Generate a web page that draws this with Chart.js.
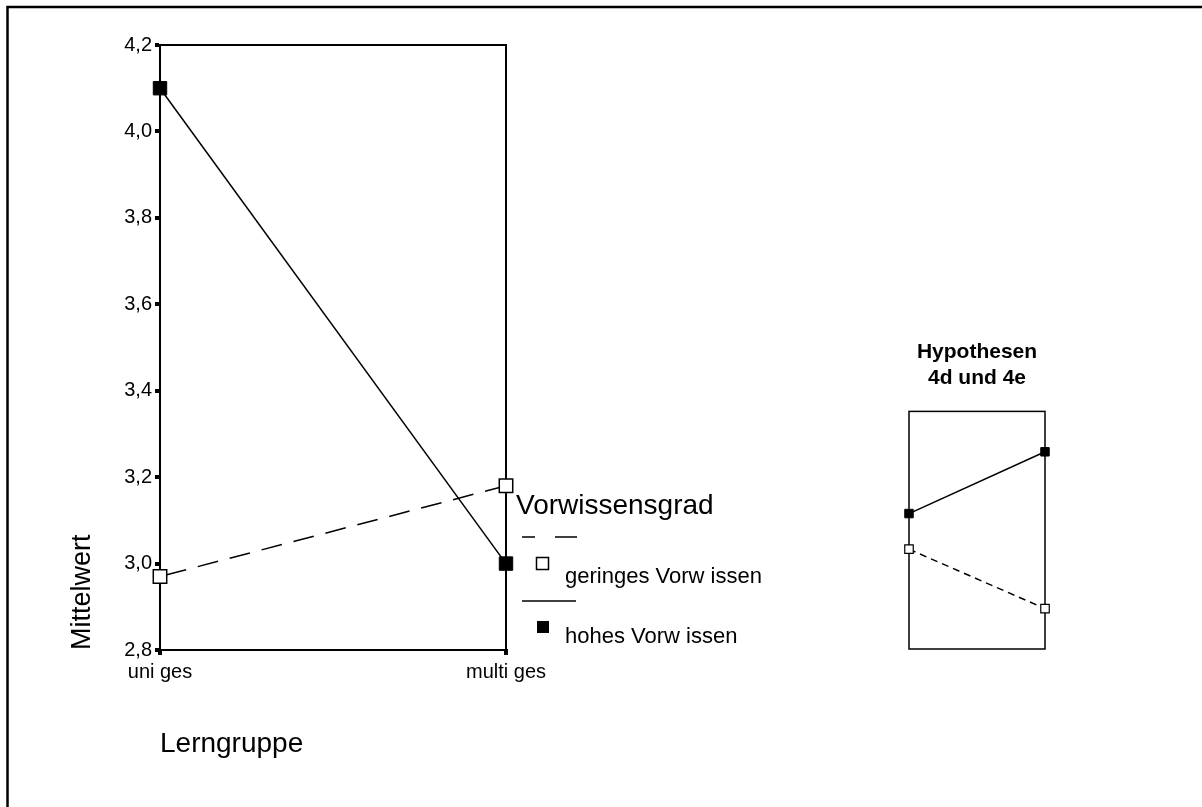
<!DOCTYPE html>
<html>
<head>
<meta charset="utf-8">
<script src="https://cdn.jsdelivr.net/npm/chart.js@4.4.1/dist/chart.umd.min.js"></script>
<style>
body { margin: 0; background: #fff; }
#wrap { position: relative; width: 1202px; height: 807px; overflow: hidden; }
#haupt { position: absolute; left: 0; top: 0; }
#klein { position: absolute; left: 860px; top: 330px; }
</style>
</head>
<body>
<div id="wrap">
  <canvas id="haupt" width="1202" height="807"></canvas>
  <canvas id="klein" width="240" height="340"></canvas>
</div>
<script>
// Lerngruppen (x-Achse)
var lerngruppen = ['uni ges', 'multi ges'];

// Mittelwerte je Vorwissensgrad
var geringesVorwissen = [2.97, 3.18];
var hohesVorwissen = [4.10, 3.00];

// y-Achse
var yMin = 2.8;
var yMax = 4.2;
var yStep = 0.2;

// Legende
var legendeTitel = 'Vorwissensgrad';
var legendeTexte = ['geringes Vorw issen', 'hohes Vorw issen'];

// kleines Schema "Hypothesen 4d und 4e" (keine Skala, nur die Richtung)
var hypoTitel = ['Hypothesen', '4d und 4e'];
var hypoGering = [4.2, 1.7];
var hypoHoch = [5.7, 8.3];

Chart.defaults.font.family = "'Liberation Sans', Arial, sans-serif";
Chart.defaults.color = '#000';

// Rahmen ums Diagramm
var boxPlugin = {
    id: 'box',
    beforeDatasetsDraw: function (chart) {
        var a = chart.chartArea;
        var ctx = chart.ctx;
        ctx.save();
        ctx.strokeStyle = '#000';
        ctx.lineWidth = chart.canvas.id == 'haupt' ? 2 : 1.5;
        ctx.strokeRect(a.left, a.top, a.right - a.left, a.bottom - a.top);
        ctx.restore();
    }
};

// Legende und Außenrahmen (nur Hauptdiagramm)
var legendePlugin = {
    id: 'legende',
    afterDraw: function (chart) {
        var ctx = chart.ctx;
        ctx.save();
        ctx.strokeStyle = '#000';
        ctx.fillStyle = '#000';

        // Außenrahmen
        ctx.lineWidth = 2.5;
        ctx.beginPath();
        ctx.moveTo(7.5, 807);
        ctx.lineTo(7.5, 7);
        ctx.lineTo(1202, 7);
        ctx.stroke();

        ctx.textBaseline = 'alphabetic';
        ctx.textAlign = 'left';
        ctx.font = "28px 'Liberation Sans', Arial, sans-serif";
        ctx.fillText(legendeTitel, 516, 514);

        // gestrichelt
        ctx.lineWidth = 1.5;
        ctx.setLineDash([13, 20, 22, 20]);
        ctx.beginPath();
        ctx.moveTo(522, 537);
        ctx.lineTo(577, 537);
        ctx.stroke();
        ctx.setLineDash([]);
        ctx.beginPath();
        ctx.moveTo(522, 601);
        ctx.lineTo(576, 601);
        ctx.stroke();

        ctx.fillStyle = '#fff';
        ctx.fillRect(536.5, 557.5, 12, 12);
        ctx.strokeRect(536.5, 557.5, 12, 12);
        ctx.fillStyle = '#000';
        ctx.fillRect(537, 621, 12, 12);

        ctx.font = "22px 'Liberation Sans', Arial, sans-serif";
        ctx.fillText(legendeTexte[0], 565, 583);
        ctx.fillText(legendeTexte[1], 565, 643);
        ctx.restore();
    }
};

var contextoHaupt = document.getElementById('haupt').getContext('2d');
var chartHaupt = new Chart(contextoHaupt, {
    type: 'line',
    data: {
        labels: lerngruppen,
        datasets: [{
            label: legendeTexte[0],
            data: geringesVorwissen,
            borderColor: '#000',
            borderWidth: 1.5,
            borderDash: [21, 12],
            borderDashOffset: -6,
            pointStyle: 'rect',
            pointRadius: 9.5,
            pointBackgroundColor: '#fff',
            pointBorderColor: '#000',
            pointBorderWidth: 1.5,
            tension: 0,
            clip: false
        }, {
            label: legendeTexte[1],
            data: hohesVorwissen,
            borderColor: '#000',
            borderWidth: 1.5,
            pointStyle: 'rect',
            pointRadius: 9.5,
            pointBackgroundColor: '#000',
            pointBorderColor: '#000',
            pointBorderWidth: 1,
            tension: 0,
            clip: false
        }]
    },
    options: {
        responsive: false,
        animation: false,
        layout: { padding: { left: 60, right: 696, top: 45, bottom: 46 } },
        plugins: {
            legend: { display: false },
            tooltip: { enabled: false }
        },
        scales: {
            x: {
                type: 'category',
                offset: false,
                grid: { drawOnChartArea: false, tickLength: 5, lineWidth: 4, color: '#000' },
                border: { display: true, color: '#000', width: 2 },
                ticks: { padding: 5, maxRotation: 0, font: { size: 20 }, color: '#000' },
                title: { display: true, text: 'Lerngruppe', align: 'start', font: { size: 28 }, padding: 0, color: '#000' },
                afterFit: function (s) { s.height = 111; }
            },
            y: {
                min: yMin,
                max: yMax,
                grid: { drawOnChartArea: false, tickLength: 5, lineWidth: 4, color: '#000' },
                border: { display: true, color: '#000', width: 2 },
                ticks: {
                    stepSize: yStep,
                    padding: 3,
                    font: { size: 20 },
                    color: '#000',
                    callback: function (v) { return v.toFixed(1).replace('.', ','); }
                },
                title: { display: true, text: 'Mittelwert', align: 'start', font: { size: 27 }, padding: { top: 6, bottom: 0 }, color: '#000' },
                afterFit: function (s) { s.width = 100; }
            }
        }
    },
    plugins: [boxPlugin, legendePlugin]
});

var contextoKlein = document.getElementById('klein').getContext('2d');
var chartKlein = new Chart(contextoKlein, {
    type: 'line',
    data: {
        labels: lerngruppen,
        datasets: [{
            data: hypoHoch,
            borderColor: '#000',
            borderWidth: 1.5,
            pointStyle: 'rect',
            pointRadius: 6,
            pointBackgroundColor: '#000',
            pointBorderColor: '#000',
            pointBorderWidth: 1,
            clip: false
        }, {
            data: hypoGering,
            borderColor: '#000',
            borderWidth: 1.5,
            borderDash: [7, 5],
            pointStyle: 'rect',
            pointRadius: 6,
            pointBackgroundColor: '#fff',
            pointBorderColor: '#000',
            pointBorderWidth: 1.2,
            clip: false
        }]
    },
    options: {
        responsive: false,
        animation: false,
        layout: { padding: { left: 49, right: 55, top: 0, bottom: 21 } },
        plugins: {
            legend: { display: false },
            tooltip: { enabled: false },
            title: {
                display: true,
                text: hypoTitel,
                color: '#000',
                font: { size: 21, weight: 'bold', lineHeight: 1.2 },
                padding: { top: 10, bottom: 21 }
            }
        },
        scales: {
            x: { display: false, offset: false },
            y: { display: false, min: 0, max: 10 }
        }
    },
    plugins: [boxPlugin]
});
</script>
</body>
</html>
